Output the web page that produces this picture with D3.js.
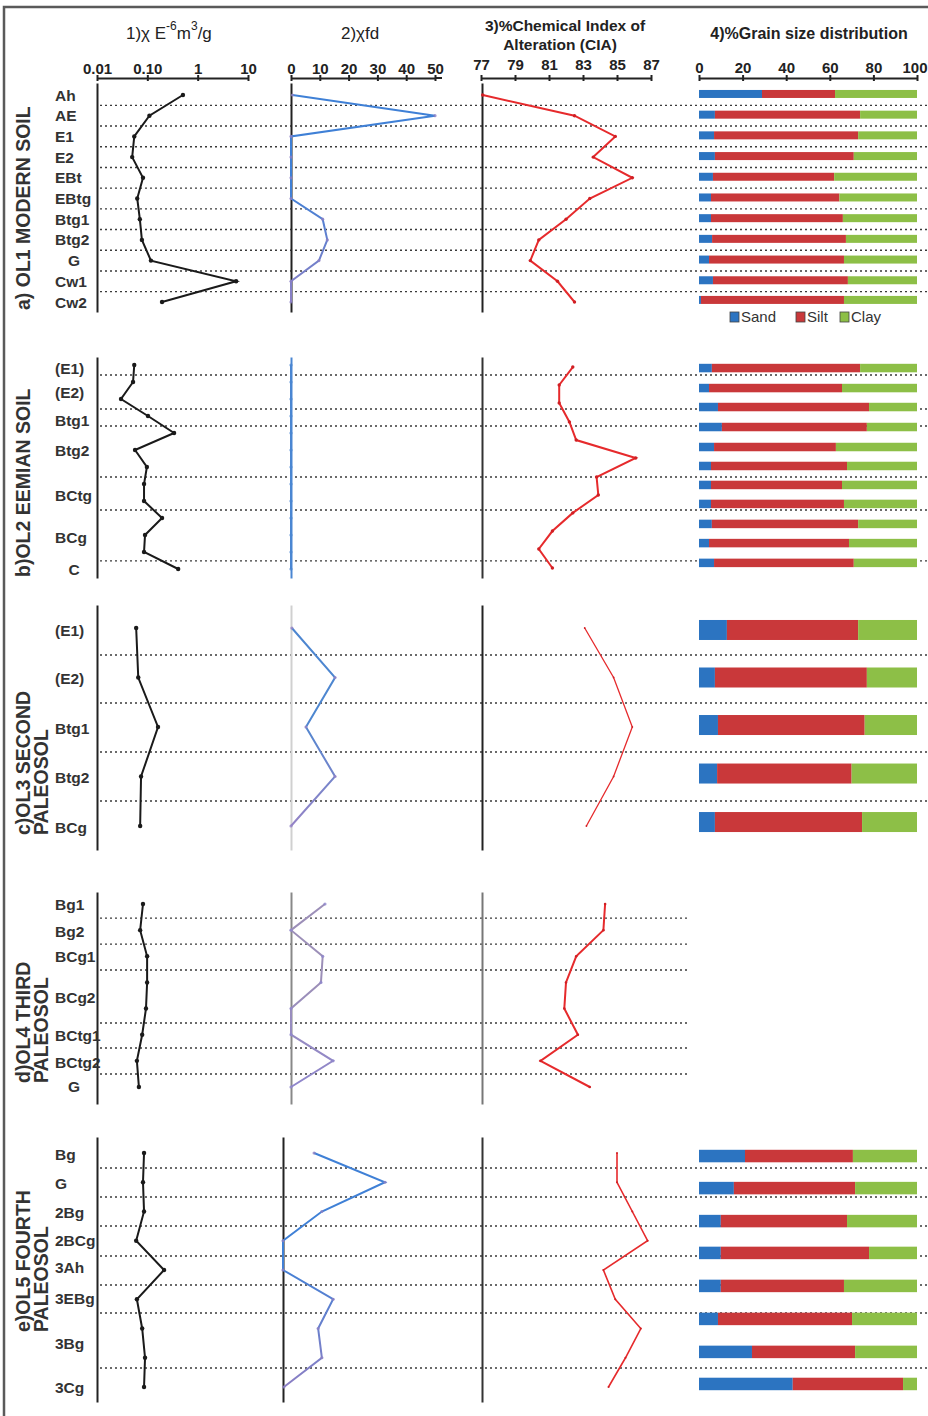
<!DOCTYPE html>
<html><head><meta charset="utf-8">
<script src="https://cdn.jsdelivr.net/npm/d3@7"></script>
<style>body{margin:0;background:#fff}svg{display:block}text{font-family:"Liberation Sans",Arial,sans-serif}</style>
</head><body><svg id="chart" width="928" height="1416"></svg>
<script>
// ---------------- DATA ----------------
const chiTicks = [0.01, 0.1, 1, 10];
const chiTickLabels = ["0.01", "0.10", "1", "10"];
const fdTicks = [0, 10, 20, 30, 40, 50];
const ciaTicks = [77, 79, 81, 83, 85, 87];
const grainTicks = [0, 20, 40, 60, 80, 100];
const grainClasses = ["Sand", "Silt", "Clay"];

// a) OL1 modern soil (relative depth 0-100)
const horizonsA = ["Ah","AE","E1","E2","EBt","EBtg","Btg1","Btg2","G","Cw1","Cw2"];
const labelDepthA = [0,10,20,30,40,50,60,70,80,90,100];
const boundaryDepthA = [5,15,25,35,45,55,65,75,85,95];
const sampleDepthA = [0,10,20,30,40,50,60,70,80,90,100];
const chiA = [0.51,0.11,0.055,0.05,0.082,0.063,0.071,0.078,0.118,5.8,0.196];
const chifdA = [0.5,50,0,0,0,0,11,12.6,9.7,0,0];
const ciaA = [77.1,82.5,84.9,83.6,85.9,83.4,82.0,80.4,79.9,81.5,82.5];
const grainDepthA = [-0.5,9.5,19.5,29.5,39.5,49.5,59.5,69.5,79.5,89.5,99];
const sandA = [28.9,7.3,6.9,7.3,6.4,5.5,5.5,6.0,4.6,6.4,0.9];
const siltA = [33.5,66.6,66.1,63.7,55.6,58.9,60.5,61.4,61.9,61.9,65.6];
const clayA = [37.6,26.1,27.0,29.0,38.0,35.6,34.0,32.6,33.5,31.7,33.5];

// b) OL2 Eemian soil
const horizonsB = ["(E1)","(E2)","Btg1","Btg2","BCtg","BCg","C"];
const labelDepthB = [1.5,13.2,27,41.7,63.7,84.3,100];
const boundaryDepthB = [4.9,21.6,29.9,54.9,71.1,96];
const chiDepthB = [0,8.33,16.67,25,33.33,41.67,50,58.33,66.67,75,83.33,91.67,100];
const chiB = [0.055,0.052,0.030,0.103,0.34,0.057,0.098,0.086,0.086,0.196,0.09,0.086,0.41];
const chifdB = [0,0,0,0,0,0,0,0,0,0,0,0,0];
const ciaDepthB = [1,9.8,18.6,27.9,36.8,45.6,54.9,63.7,72.5,81.4,90.2,99.5];
const ciaB = [82.4,81.6,81.6,82.2,82.6,86.1,83.8,83.9,82.4,81.2,80.4,81.2];
const grainDepthB = [1.5,11.3,20.6,30.4,40.2,49.5,58.8,68.1,77.9,87.3,97];
const sandB = [5.9,4.6,8.7,10.5,6.9,5.5,5.5,5.5,5.9,4.6,6.9];
const siltB = [68.0,61.0,69.3,66.5,55.9,62.4,60.1,61.0,67.1,64.2,64.1];
const clayB = [26.1,34.4,22.0,23.0,37.2,32.1,34.4,33.5,27.0,31.2,29.0];

// c) OL3 second paleosol
const horizonsC = ["(E1)","(E2)","Btg1","Btg2","BCg"];
const labelDepthC = [1,25.3,50.5,75.3,100.5];
const boundaryDepthC = [13.6,37.9,62.6,87.4];
const sampleDepthC = [0,25,50,75,100];
const chiC = [0.06,0.066,0.163,0.075,0.072];
const chifdC = [0.3,15.3,5.2,15.3,0];
const ciaC = [83.1,84.8,85.9,84.8,83.2];
const grainDepthC = [1,25,49,73.5,98];
const sandC = [12.8,7.3,8.7,8.3,7.3];
const siltC = [60.2,69.7,67.3,61.7,67.5];
const clayC = [27.0,23.0,24.0,30.0,25.2];

// d) OL4 third paleosol (no grain size data)
const horizonsD = ["Bg1","Bg2","BCg1","BCg2","BCtg1","BCtg2","G"];
const labelDepthD = [0,14.8,28.4,50.8,71.6,86.3,99.5];
const boundaryDepthD = [7.7,21.9,36.1,65,78.7,92.9];
const sampleDepthD = [0,14.29,28.57,42.86,57.14,71.43,85.71,100];
const chiD = [0.082,0.072,0.099,0.099,0.094,0.079,0.062,0.068];
const chifdD = [11.8,0,11,10.4,0,0,14.6,0];
const ciaD = [84.3,84.2,82.6,82.0,81.9,82.7,80.5,83.4];

// e) OL5 fourth paleosol
const horizonsE = ["Bg","G","2Bg","2BCg","3Ah","3EBg","3Bg","3Cg"];
const labelDepthE = [0.4,12.8,25.2,37.2,49.1,62,81.2,100];
const boundaryDepthE = [6.4,18.8,31.2,44,56.4,68.4,91.9];
const sampleDepthE = [0,12.5,25,37.5,50,62.5,75,87.5,100];
const chiE = [0.086,0.082,0.086,0.06,0.215,0.062,0.079,0.09,0.086];
const chifdE = [10.8,35.4,13.5,0,0,17.4,12.2,13.5,0.3];
const ciaE = [85.0,85.0,85.9,86.8,84.2,84.9,86.4,85.5,84.5];
const grainDepthE = [1.3,15,29.1,42.7,56.8,70.9,85,98.7];
const sandE = [21.1,16,10,10,10,8.7,24.3,43];
const siltE = [49.5,55.6,57.9,68,56.5,61.5,47.3,50.6];
const clayE = [29.4,28.4,32.1,22,33.5,29.8,28.4,6.4];

// ---------------- ASSEMBLY ----------------
const sections = [
  {id:"a", horizons:horizonsA, labelDepth:labelDepthA, bounds:boundaryDepthA,
   chi:{d:sampleDepthA,v:chiA}, fd:{d:sampleDepthA,v:chifdA}, cia:{d:sampleDepthA,v:ciaA},
   grain:{d:grainDepthA,sand:sandA,silt:siltA,clay:clayA},
   L:{top:95,bottom:302,ax:[83,312],title:["a) OL1 MODERN SOIL"],titleY:310,dotEnd:928,barH:8,fdShift:0,
      fdCols:["#3f80d6","#8c7fc4"],ax2:"#222",ax3:"#222",ciaW:2,ciaR:1.7,centerSingles:true}},
  {id:"b", horizons:horizonsB, labelDepth:labelDepthB, bounds:boundaryDepthB,
   chi:{d:chiDepthB,v:chiB}, fd:{d:chiDepthB,v:chifdB}, cia:{d:ciaDepthB,v:ciaB},
   grain:{d:grainDepthB,sand:sandB,silt:siltB,clay:clayB},
   L:{top:365,bottom:569,ax:[357,578],title:["b)OL2 EEMIAN SOIL"],titleY:577,dotEnd:928,barH:8.5,fdShift:0,
      fdCols:["#4a86d2","#4a86d2"],ax2:"#4a86d2",ax3:"#333",ciaW:2,ciaR:1.7,centerSingles:true}},
  {id:"c", horizons:horizonsC, labelDepth:labelDepthC, bounds:boundaryDepthC,
   chi:{d:sampleDepthC,v:chiC}, fd:{d:sampleDepthC,v:chifdC}, cia:{d:sampleDepthC,v:ciaC},
   grain:{d:grainDepthC,sand:sandC,silt:siltC,clay:clayC},
   L:{top:628,bottom:826,ax:[605,850],title:["c)OL3 SECOND","PALEOSOL"],titleY:835,dotEnd:928,barH:20,fdShift:0,
      fdCols:["#4d86d0","#9583c6"],ax2:"#d0d0d0",ax3:"#222",ciaW:1.3,ciaR:0.9,centerSingles:true}},
  {id:"d", horizons:horizonsD, labelDepth:labelDepthD, bounds:boundaryDepthD,
   chi:{d:sampleDepthD,v:chiD}, fd:{d:sampleDepthD,v:chifdD}, cia:{d:sampleDepthD,v:ciaD},
   grain:null,
   L:{top:904,bottom:1087,ax:[892,1104],title:["d)OL4 THIRD","PALEOSOL"],titleY:1083,dotEnd:688,barH:0,fdShift:0,
      fdCols:["#9c8fb8","#8f86cc"],ax2:"#888",ax3:"#777",ciaW:2,ciaR:1.3,centerSingles:true}},
  {id:"e", horizons:horizonsE, labelDepth:labelDepthE, bounds:boundaryDepthE,
   chi:{d:sampleDepthE,v:chiE}, fd:{d:sampleDepthE,v:chifdE}, cia:{d:sampleDepthE,v:ciaE},
   grain:{d:grainDepthE,sand:sandE,silt:siltE,clay:clayE},
   L:{top:1153,bottom:1387,ax:[1137,1402],title:["e)OL5 FOURTH","PALEOSOL"],titleY:1332,dotEnd:928,barH:12.5,fdShift:-8,
      fdCols:["#3f80d6","#8c7fc4"],ax2:"#222",ax3:"#333",ciaW:1.6,ciaR:1,centerSingles:false}}
];

// ---------------- DRAW ----------------
const svg = d3.select("#chart");
const colSand = "#2c74c1", colSilt = "#c9383a", colClay = "#8dbf47", colCia = "#e62a2c";

const xChi = d3.scaleLog().domain([0.01, 10]).range([97, 248]);
const xFd = d3.scaleLinear().domain([0, 50]).range([291, 435]);
const xCia = d3.scaleLinear().domain([77, 87]).range([481, 651]);
const xGrain = d3.scaleLinear().domain([0, 100]).range([699, 917]);

// frame
svg.append("path").attr("d","M4,1416V7H928").attr("fill","none").attr("stroke","#5a5a5a").attr("stroke-width",2.5);

// top axes
function topAxis(scale, ticks, fmt, pad) {
  const g = svg.append("g").attr("transform","translate(0,78)")
    .call(d3.axisTop(scale).tickValues(ticks).tickFormat(fmt).tickSizeInner(3).tickSizeOuter(0).tickPadding(pad));
  g.select(".domain").attr("stroke","#222").attr("stroke-width",2);
  g.selectAll(".tick line").attr("y1",3).attr("y2",-3).attr("stroke","#222").attr("stroke-width",2);
  g.selectAll(".tick text").attr("font-size",15).attr("font-weight","bold").attr("fill","#222")
    .attr("font-family","'Liberation Sans',Arial,sans-serif");
  return g;
}
topAxis(xChi, chiTicks, (d,i)=>chiTickLabels[i], 1);
const fdAx = topAxis(xFd, fdTicks, d3.format("d"), 1);
fdAx.append("line").attr("x1",435).attr("x2",442).attr("stroke","#222").attr("stroke-width",2);
topAxis(xCia, ciaTicks, d3.format("d"), 5);
const grAx = topAxis(xGrain, grainTicks, d3.format("d"), 2);
grAx.selectAll(".tick text").filter(d => d === 100).attr("text-anchor","end").attr("x",10);

// column titles
const t1 = svg.append("text").attr("x",126).attr("y",39).attr("font-size",17).attr("fill","#222");
t1.append("tspan").text("1)χ E");
t1.append("tspan").attr("font-size",12).attr("dy",-9).text("-6");
t1.append("tspan").attr("dy",9).text("m");
t1.append("tspan").attr("font-size",12).attr("dy",-9).text("3");
t1.append("tspan").attr("dy",9).text("/g");
svg.append("text").attr("x",341).attr("y",39).attr("font-size",17).attr("fill","#222").text("2)χfd");
svg.append("text").attr("x",565).attr("y",31).attr("text-anchor","middle").attr("font-size",15.5).attr("font-weight","bold").attr("fill","#222").text("3)%Chemical Index of");
svg.append("text").attr("x",560).attr("y",50).attr("text-anchor","middle").attr("font-size",15.5).attr("font-weight","bold").attr("fill","#222").text("Alteration (CIA)");
svg.append("text").attr("x",809).attr("y",39).attr("text-anchor","middle").attr("font-size",16).attr("font-weight","bold").attr("fill","#222").text("4)%Grain size distribution");

const defs = svg.append("defs");

sections.forEach(S => {
  const L = S.L;
  const y = d3.scaleLinear().domain([0,100]).range([L.top, L.bottom]);
  const g = svg.append("g");

  // dotted horizon boundaries
  g.selectAll("line.bd").data(S.bounds).join("line")
    .attr("x1",100).attr("x2",L.dotEnd).attr("y1",d=>y(d)).attr("y2",d=>y(d))
    .attr("stroke","#3a3a3a").attr("stroke-width",1.4).attr("stroke-dasharray","2,3");

  // vertical axes
  const yAx = d3.scaleLinear().domain([0,1]).range(L.ax);
  const vAxis = (x, col) => {
    const a = g.append("g").attr("transform",`translate(${x},0)`)
      .call(d3.axisLeft(yAx).tickValues([]).tickSizeOuter(0));
    a.select(".domain").attr("stroke",col).attr("stroke-width",2);
  };
  vAxis(97, "#222");
  vAxis(291 + L.fdShift, L.ax2);
  vAxis(482, L.ax3);

  // horizon labels
  g.selectAll("text.hz").data(S.horizons).join("text")
    .attr("x",d => (L.centerSingles && d.length===1) ? 74 : 55)
    .attr("text-anchor",d => (L.centerSingles && d.length===1) ? "middle" : "start")
    .attr("y",(d,i)=>y(S.labelDepth[i])).attr("dy","0.36em")
    .attr("font-size",15.5).attr("font-weight","bold").attr("fill","#333").text(d=>d);

  // rotated section title
  L.title.forEach((t,i) => {
    g.append("text").attr("transform",`translate(${i===0?30:48},${L.titleY}) rotate(-90)`)
      .attr("font-size",19.5).attr("font-weight","bold").attr("fill","#333").text(t);
  });

  // chi line
  const chiPts = S.chi.d.map((d,i)=>({d, v:S.chi.v[i]}));
  g.append("path").datum(chiPts)
    .attr("d", d3.line().x(p=>xChi(p.v)).y(p=>y(p.d)))
    .attr("fill","none").attr("stroke","#1a1a1a").attr("stroke-width",2);
  g.selectAll("circle.chi").data(chiPts).join("circle")
    .attr("cx",p=>xChi(p.v)).attr("cy",p=>y(p.d)).attr("r",2.2).attr("fill","#1a1a1a");

  // chi fd line with vertical colour gradient
  const xF = xFd.copy().range([291 + L.fdShift, 435 + L.fdShift]);
  const gid = "fdgrad_" + S.id;
  const grad = defs.append("linearGradient").attr("id",gid).attr("gradientUnits","userSpaceOnUse")
    .attr("x1",0).attr("x2",0).attr("y1",L.top).attr("y2",L.bottom);
  grad.append("stop").attr("offset","0%").attr("stop-color",L.fdCols[0]);
  grad.append("stop").attr("offset","45%").attr("stop-color",L.fdCols[0]);
  grad.append("stop").attr("offset","100%").attr("stop-color",L.fdCols[1]);
  const fdPts = S.fd.d.map((d,i)=>({d, v:S.fd.v[i]}));
  g.append("path").datum(fdPts)
    .attr("d", d3.line().x(p=>xF(p.v)).y(p=>y(p.d)))
    .attr("fill","none").attr("stroke",`url(#${gid})`).attr("stroke-width",2);
  g.selectAll("circle.fd").data(fdPts).join("circle")
    .attr("cx",p=>xF(p.v)).attr("cy",p=>y(p.d)).attr("r",1.6).attr("fill",L.fdCols[1]).attr("opacity",0.8);

  // CIA line
  const ciaPts = S.cia.d.map((d,i)=>({d, v:S.cia.v[i]}));
  g.append("path").datum(ciaPts)
    .attr("d", d3.line().x(p=>xCia(p.v)).y(p=>y(p.d)))
    .attr("fill","none").attr("stroke",colCia).attr("stroke-width",L.ciaW);
  g.selectAll("circle.cia").data(ciaPts).join("circle")
    .attr("cx",p=>xCia(p.v)).attr("cy",p=>y(p.d)).attr("r",L.ciaR).attr("fill","#d01f24");

  // grain size stacked bars
  if (S.grain) {
    const rows = S.grain.d.map((d,i)=>({d, Sand:S.grain.sand[i], Silt:S.grain.silt[i], Clay:S.grain.clay[i]}));
    const stacked = d3.stack().keys(grainClasses)(rows);
    const cols = {Sand:colSand, Silt:colSilt, Clay:colClay};
    stacked.forEach(layer => {
      g.selectAll(null).data(layer).join("rect")
        .attr("x",p=>xGrain(p[0])).attr("width",p=>xGrain(p[1])-xGrain(p[0]))
        .attr("y",p=>y(p.data.d)-L.barH/2).attr("height",L.barH)
        .attr("fill",cols[layer.key]);
    });
  }
});

// legend for grain size
const legend = svg.append("g").attr("transform","translate(730,317)");
const legX = [0, 66, 110];
const legCol = [colSand, colSilt, colClay];
grainClasses.forEach((k,i)=>{
  legend.append("rect").attr("x",legX[i]).attr("y",-5).attr("width",9).attr("height",10)
    .attr("fill",legCol[i]).attr("stroke","#444").attr("stroke-width",0.8);
  legend.append("text").attr("x",legX[i]+11).attr("y",0).attr("dy","0.36em")
    .attr("font-size",15).attr("fill","#333").text(k);
});
</script></body></html>
